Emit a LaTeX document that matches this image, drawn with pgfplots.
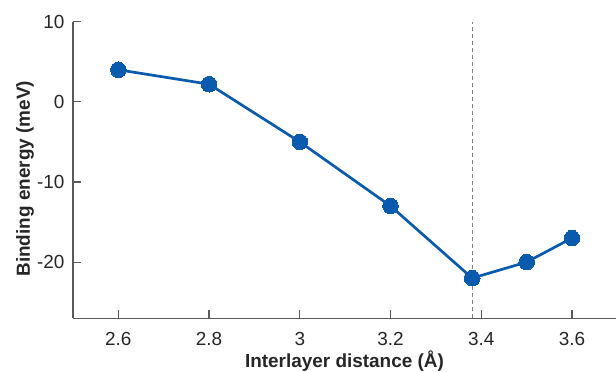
\documentclass[border=0pt]{standalone}
\usepackage{fontspec}
\setmainfont{Liberation Sans}
\usepackage{pgfplots}
\pgfplotsset{compat=1.18}
\definecolor{ptblue}{HTML}{0A5BAE}
\definecolor{axgray}{HTML}{5A5A5A}
\definecolor{dashgray}{HTML}{808080}
\begin{document}
\begin{tikzpicture}
\begin{axis}[
  scale only axis, width=543bp, height=296.5bp,
  xmin=2.5, xmax=3.697, ymin=-27, ymax=10,
  axis x line*=bottom, axis y line*=left,
  axis line style={axgray, line width=1.2bp, -},
  xtick={2.6,2.8,3,3.2,3.4,3.6}, xticklabels={2.6,2.8,3,3.2,3.4,3.6},
  ytick={-20,-10,0,10}, yticklabels={-20,-10,0,10},
  tick align=inside, major tick length=8bp,
  tick style={axgray, line width=1.2bp},
  /pgf/number format/assume math mode=true,
  ticklabel style={font=\fontsize{19}{21}\selectfont, text=black!85},
  xticklabel style={yshift=-11bp},
  yticklabel style={xshift=-5bp},
  label style={font=\bfseries\fontsize{19}{21}\selectfont, text=black!85},
  xlabel={Interlayer distance (Å)},
  ylabel={Binding energy (meV)},
  xlabel style={at={(axis description cs:0.5,-0.165)}, anchor=base},
  ylabel style={at={(axis description cs:-0.0792,0.47)}, anchor=base, rotate=0},
  clip=false,
]
\addplot[dashgray, line width=1.2bp, dash pattern=on 4bp off 3bp] coordinates {(3.38,-27) (3.38,10)};
\addplot[ptblue, line width=2.7bp, mark=*, mark size=7.8bp, mark options={fill=ptblue, draw=ptblue, line width=0pt}]
  coordinates {(2.6,4) (2.8,2.2) (3.0,-5) (3.2,-13) (3.38,-22) (3.5,-20) (3.6,-17)};
\end{axis}
\pgfresetboundingbox
\path ([xshift=-73bp,yshift=-53bp]current axis.south west) rectangle ([yshift=21.7bp]current axis.north east);
\end{tikzpicture}
\end{document}
